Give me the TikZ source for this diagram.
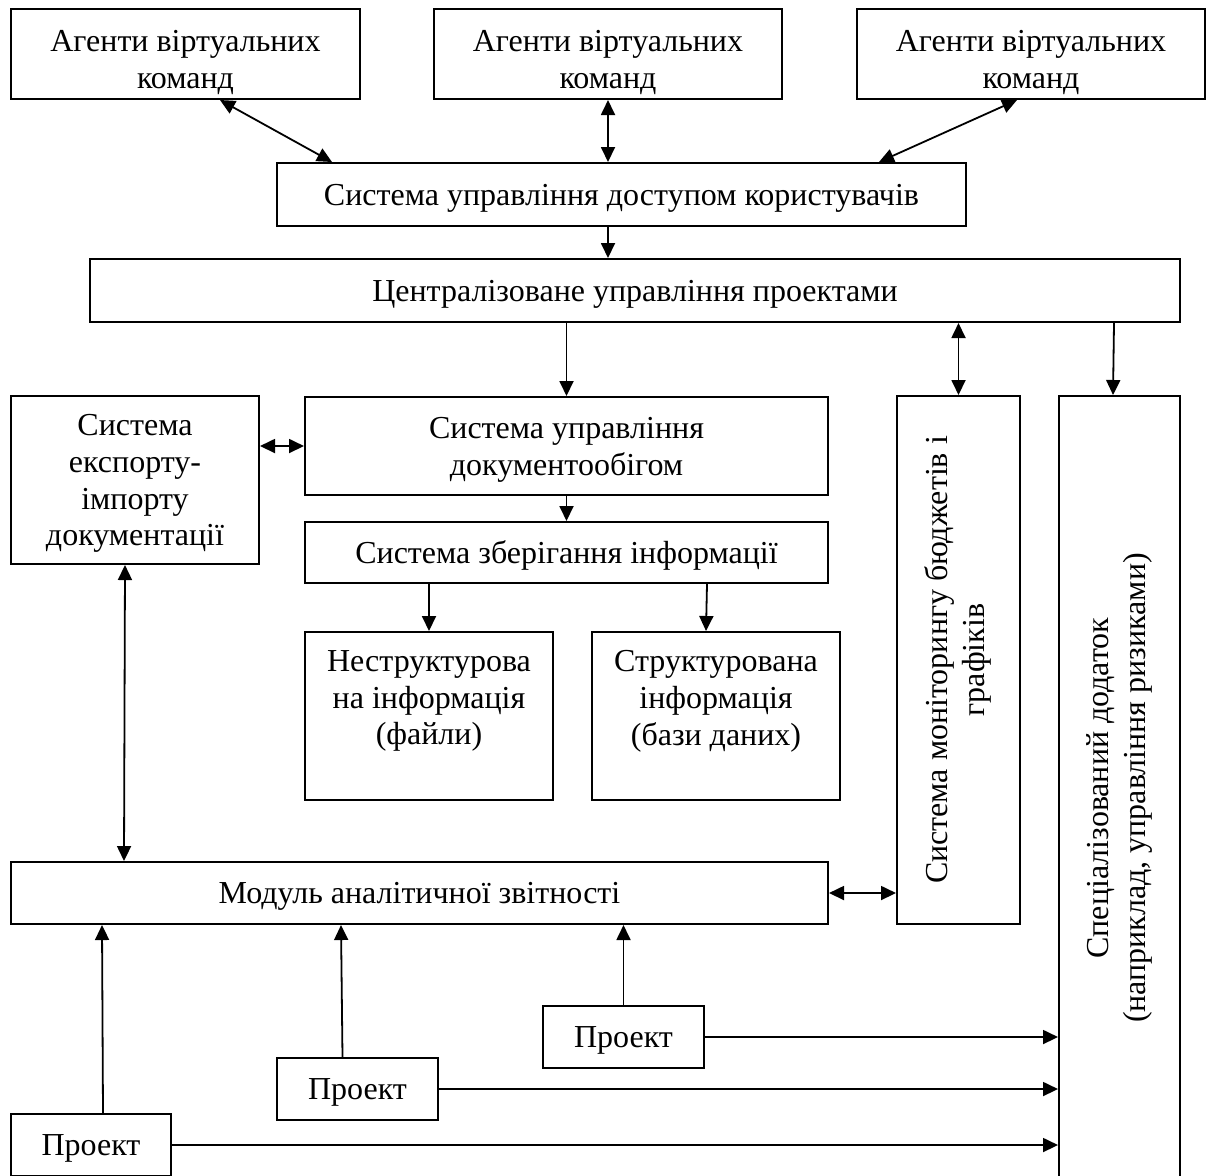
\documentclass[tikz,border=0pt]{standalone}
\usepackage{fontspec}
\setmainfont{Liberation Serif}
\usetikzlibrary{arrows.meta}
\usetikzlibrary{calc}
\tikzset{box/.style = {draw, rectangle, line width=1pt, inner sep=0, align=center, text depth=0pt,
                       font=\fontsize{16}{18.4}\selectfont}}
\tikzset{agbox/.style = {box, minimum height=45pt, text height=34pt}}
\tikzset{arr/.style = {line width=0.9pt, -{Triangle[length=7.5pt, width=7pt]}}}
\tikzset{dbl/.style = {line width=0.9pt,
                       {Triangle[length=7.5pt, width=7pt]}-{Triangle[length=7.5pt, width=7pt]}}}

\begin{document}
\begin{tikzpicture}[x=0.5pt, y=-0.5pt]
      \useasboundingbox (0, 0) rectangle (1208, 1175);
      \clip (0, 0) rectangle (1208, 1175);
      \node [agbox, minimum width=174.5pt] (ag1) at (185.5, 54) {Агенти віртуальних\\команд};
      \node [agbox, minimum width=174pt] (ag2) at (608, 54) {Агенти віртуальних\\команд};
      \node [agbox, minimum width=174pt] (ag3) at (1031, 54) {Агенти віртуальних\\команд};
      \node [box, minimum width=344.5pt, minimum height=31.5pt] (acc) at (621.5, 194.5) {Система управління доступом користувачів};
      \node [box, minimum width=545pt, minimum height=31.5pt] (cent) at (635, 290.5) {Централізоване управління проектами};
      \node [box, minimum width=124pt, minimum height=84pt] (exp) at (135, 480) {Система\\експорту-\\імпорту\\документації};
      \node [box, minimum width=261.5pt, minimum height=49pt] (doc) at (566.5, 446) {Система управління\\документообігом};
      \node [box, minimum width=261.5pt, minimum height=30.5pt] (stor) at (566.5, 552.5) {Система зберігання інформації};
      \node [box, minimum width=124pt, minimum height=84pt] (unst) at (429, 716) {Неструктурова\\на інформація\\(файли)\\\mbox{}};
      \node [box, minimum width=124pt, minimum height=84pt] (strc) at (716, 716) {Структурована\\інформація\\(бази даних)\\\mbox{}};
      \node [box, minimum width=61.5pt, minimum height=264pt] (mon) at (958.5, 660)
            {\rotatebox{90}{\begin{tabular}{@{}c@{}}Система моніторингу бюджетів і\\графіків\end{tabular}}};
      \node [box, minimum width=60.5pt, minimum height=392pt] (spec) at (1119.5, 788)
            {\rotatebox{90}{\begin{tabular}{@{}c@{}}Спеціалізований додаток\\(наприклад, управління ризиками)\end{tabular}}};
      \node [box, minimum width=408.5pt, minimum height=31pt] (anal) at (419.5, 893) {Модуль аналітичної звітності};
      \node [box, minimum width=80.5pt, minimum height=31pt] (p3) at (623.5, 1037) {Проект};
      \node [box, minimum width=80.5pt, minimum height=31pt] (p2) at (357.5, 1089) {Проект};
      \node [box, minimum width=80pt, minimum height=31pt] (p1) at (91, 1145) {Проект};
      \draw [dbl] ($(ag1.south)+(34.5, 0)$) -- ($(acc.north west)+(56, 0)$);
      \draw [dbl] (ag2.south) -- (ag2.south |- acc.north);
      \draw [dbl] ($(ag3.south)+(-14, 0)$) -- ($(acc.north east)+(-88, 0)$);
      \draw [arr] (acc.south -| ag2.south) -- (cent.north -| ag2.south);
      \draw [arr] (doc.north |- cent.south) -- (doc.north);
      \draw [dbl] (mon.north |- cent.south) -- (mon.north);
      \draw [arr] ($(cent.south east)+(-67, 0)$) -- ($(spec.north)+(-6.5, 0)$);
      \draw [dbl] (exp.east |- doc.west) -- (doc.west);
      \draw [arr] (doc.south) -- (stor.north);
      \draw [arr] (unst.north |- stor.south) -- (unst.north);
      \draw [arr] ($(stor.south east)+(-122, 0)$) -- ($(strc.north)+(-10, 0)$);
      \draw [dbl] ($(exp.south)+(-10, 0)$) -- ($(anal.north west)+(114, 0)$);
      \draw [dbl] (anal.east) -- (anal.east -| mon.west);
      \draw [arr] ($(p1.north)+(12, 0)$) -- ($(anal.south west)+(92, 0)$);
      \draw [arr] ($(p2.north)+(-15, 0)$) -- ($(anal.south west)+(331, 0)$);
      \draw [arr] (p3.north) -- (p3.north |- anal.south);
      \draw [arr] (p3.east) -- (p3.east -| spec.west);
      \draw [arr] (p2.east) -- (p2.east -| spec.west);
      \draw [arr] (p1.east) -- (p1.east -| spec.west);
    \end{tikzpicture}
\end{document}
